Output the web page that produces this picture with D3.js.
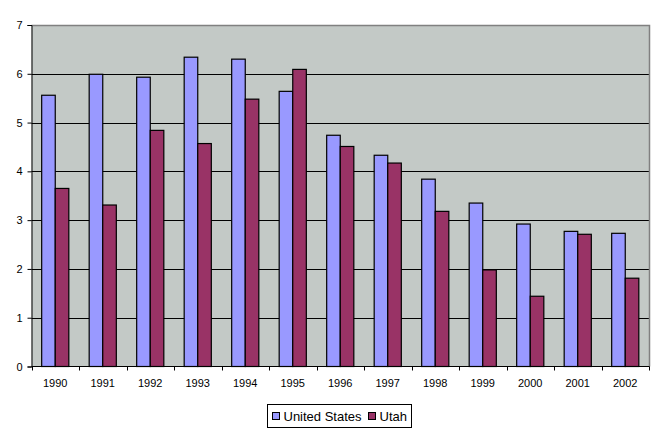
<!DOCTYPE html>
<html>
<head>
<meta charset="utf-8">
<script src="https://cdn.jsdelivr.net/npm/d3@7"></script>
<style>
  body { margin: 0; background: #fff; }
  text { font-family: "Liberation Sans", Arial, sans-serif; fill: #000; }
</style>
</head>
<body>
<svg id="chart" width="664" height="436" viewBox="0 0 664 436"></svg>
<script>
const years = ["1990", "1991", "1992", "1993", "1994", "1995", "1996",
    "1997", "1998", "1999", "2000", "2001", "2002"];
const usValues = [5.56, 5.99, 5.93, 6.34, 6.30, 5.64, 4.74, 4.33, 3.84, 3.35, 2.92, 2.77, 2.73];
const utahValues = [3.65, 3.31, 4.84, 4.57, 5.48, 6.09, 4.51, 4.17, 3.18, 1.98, 1.44, 2.71, 1.81];
const seriesNames = ["United States", "Utah"];
const seriesColors = ["#9999ff", "#993366"];
const yTicks = [0, 1, 2, 3, 4, 5, 6, 7];

const svg = d3.select("#chart");
const plot = { left: 31.5, top: 25, right: 649, bottom: 366.5 };

const x = d3.scaleBand()
    .domain(years)
    .range([plot.left, plot.right]);

const inner = d3.scaleBand()
    .domain(seriesNames)
    .range([0, x.bandwidth()])
    .paddingInner(0)
    .paddingOuter(0.75);

const y = d3.scaleLinear()
    .domain([0, 7])
    .range([plot.bottom, plot.top]);

// plot background
svg.append("rect")
    .attr("x", plot.left)
    .attr("y", plot.top)
    .attr("width", plot.right - plot.left)
    .attr("height", plot.bottom - plot.top)
    .attr("fill", "#c3c9c6");

// gridlines
svg.append("g")
    .selectAll("line")
    .data(yTicks.filter(d => d > 0 && d < 7))
    .enter()
    .append("line")
    .attr("x1", plot.left)
    .attr("x2", plot.right)
    .attr("y1", d => Math.round(y(d)) + 0.5)
    .attr("y2", d => Math.round(y(d)) + 0.5)
    .attr("stroke", "#000")
    .attr("stroke-width", 1);

// top and right frame (gray)
svg.append("path")
    .attr("d", `M${plot.left},${plot.top + 0.5}H${plot.right + 0.5}V${plot.bottom}`)
    .attr("fill", "none")
    .attr("stroke", "#808080")
    .attr("stroke-width", 1.5);

// bars
const series = [usValues, utahValues];
const groups = svg.append("g")
    .selectAll("g")
    .data(years)
    .enter()
    .append("g")
    .attr("transform", d => `translate(${x(d)},0)`);

groups.selectAll("rect")
    .data((d, i) => seriesNames.map((name, s) => ({ name, value: series[s][i], color: seriesColors[s] })))
    .enter()
    .append("rect")
    .attr("x", d => inner(d.name))
    .attr("y", d => y(d.value))
    .attr("width", inner.bandwidth())
    .attr("height", d => y(0) - y(d.value))
    .attr("fill", d => d.color)
    .attr("stroke", "#000")
    .attr("stroke-width", 1.2);

// y axis
const yAxis = svg.append("g")
    .attr("transform", `translate(${plot.left},0)`)
    .call(d3.axisLeft(y).tickValues(yTicks).tickSize(4).tickPadding(5).tickFormat(d3.format("d")));
yAxis.selectAll("text").style("font-size", "11px");
yAxis.selectAll("line, path").attr("stroke", "#000");

// x axis with ticks between categories
const xAxis = svg.append("g")
    .attr("transform", `translate(0,${plot.bottom})`);
xAxis.append("line")
    .attr("x1", plot.left)
    .attr("x2", plot.right + 0.5)
    .attr("stroke", "#000");
xAxis.selectAll(".tick")
    .data(years.map(d => x(d)).concat([plot.right]))
    .enter()
    .append("line")
    .attr("x1", d => Math.round(d) + 0.5)
    .attr("x2", d => Math.round(d) + 0.5)
    .attr("y1", 0)
    .attr("y2", 4)
    .attr("stroke", "#000");
xAxis.selectAll("text")
    .data(years)
    .enter()
    .append("text")
    .attr("x", d => x(d) + x.bandwidth() / 2)
    .attr("y", 20)
    .attr("text-anchor", "middle")
    .style("font-size", "11px")
    .text(d => d);

// legend
const legend = svg.append("g").attr("transform", "translate(267.5,404.5)");
legend.append("rect")
    .attr("width", 144)
    .attr("height", 23)
    .attr("fill", "#fff")
    .attr("stroke", "#000")
    .attr("stroke-width", 1);
const legendOffsets = [5, 101];
seriesNames.forEach((name, i) => {
    legend.append("rect")
        .attr("x", legendOffsets[i])
        .attr("y", 8)
        .attr("width", 7)
        .attr("height", 7)
        .attr("fill", seriesColors[i])
        .attr("stroke", "#000");
    legend.append("text")
        .attr("x", legendOffsets[i] + 11)
        .attr("y", 16.5)
        .style("font-size", "13px")
        .text(name);
});
</script>
</body>
</html>
